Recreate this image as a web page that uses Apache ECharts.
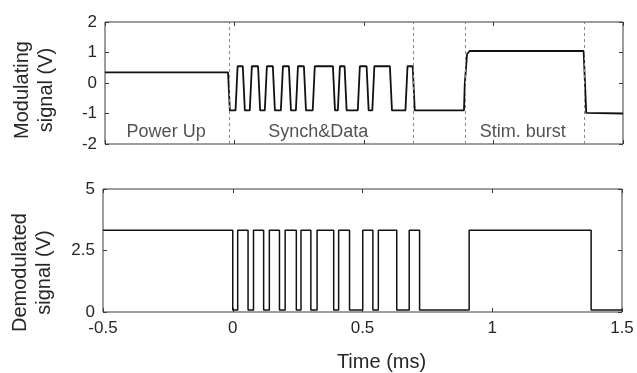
<!DOCTYPE html>
<html lang="en">
<head>
    <meta charset="UTF-8">
    <title>Modulating / demodulated signal</title>
    <script src="https://cdn.jsdelivr.net/npm/echarts@6/dist/echarts.min.js"></script>
</head>
<body style="margin: 0; background: #fff">
<div id="container" style="width:637px;height:373px;"></div>
<script>
// ---- data (time in ms, volts) ----
var xTicks = [-0.5, 0, 0.5, 1, 1.5];
var modTicks = [-2, -1, 0, 1, 2];
var demodTicks = [0, 2.5, 5];

// modulating signal: explicit [t, V] points
var modTime = [-0.5, -0.025, -0.018, 0.004, 0.012, 0.032, 0.040,
    0.059, 0.067, 0.091, 0.099, 0.117, 0.125, 0.148, 0.156,
    0.179, 0.187, 0.210, 0.218, 0.237, 0.245, 0.268, 0.276,
    0.302, 0.310, 0.380, 0.388, 0.399, 0.407, 0.425, 0.433,
    0.476, 0.484, 0.510, 0.518, 0.532, 0.540, 0.600, 0.608,
    0.660, 0.668, 0.688, 0.696, 0.886, 0.889, 0.898, 0.908,
    1.348, 1.358, 1.5];
var modValue = [0.35, 0.35, -0.9, -0.9, 0.55, 0.55, -0.9,
    -0.9, 0.55, 0.55, -0.9, -0.9, 0.55, 0.55, -0.9,
    -0.9, 0.55, 0.55, -0.9, -0.9, 0.55, 0.55, -0.9,
    -0.9, 0.55, 0.55, -0.9, -0.9, 0.55, 0.55, -0.9,
    -0.9, 0.55, 0.55, -0.9, -0.9, 0.55, 0.55, -0.9,
    -0.9, 0.55, 0.55, -0.9, -0.9, -0.05, 0.95, 1.05,
    1.05, -0.98, -1.0];

// demodulated signal: times where the level switches, starting high
var demodEdges = [0.000, 0.019, 0.059, 0.080, 0.119, 0.141, 0.180, 0.202,
    0.245, 0.263, 0.301, 0.325, 0.389, 0.408, 0.450, 0.501, 0.540, 0.561,
    0.632, 0.680, 0.720, 0.911, 1.381];
var demodHigh = 3.32;
var demodLow = 0.08;

// section borders (dashed) and section labels in the top plot
var sectionLines = [-0.022, 0.69, 0.888, 1.35];
var sectionNames = ["Power Up", "Synch&Data", "Stim. burst"];
var sectionNameX = [-0.264, 0.323, 1.113];
var sectionNameY = -1.6;

// ---- build series data ----
var modData = modTime.map(function (t, i) { return [t, modValue[i]]; });

var demodData = [[-0.5, demodHigh]];
var level = demodHigh;
demodEdges.forEach(function (t) {
    level = (level === demodHigh) ? demodLow : demodHigh;
    demodData.push([t, level]);
});
demodData.push([1.5, level]);

var labelData = sectionNames.map(function (s, i) {
    return [sectionNameX[i], sectionNameY, s];
});

var font = "'Liberation Sans', Arial, sans-serif";
var ink = "#262626";
var frame = "#3a3a3a";

function xAxis(grid, pos, showLabel, name) {
    return {
        type: "value", gridIndex: grid, position: pos,
        min: xTicks[0], max: xTicks[xTicks.length - 1], interval: 0.5,
        axisLine: { show: false, onZero: false },
        axisTick: { show: true, inside: true, length: 4, lineStyle: { color: frame } },
        axisLabel: { show: showLabel, color: ink, fontSize: 17, fontFamily: font, margin: 8 },
        splitLine: { show: false },
        name: name || "", nameLocation: "middle", nameGap: 40,
        nameTextStyle: { color: ink, fontSize: 20, fontFamily: font, padding: [0, 0, 0, 38] }
    };
}
function yAxis(grid, pos, ticks, interval, showLabel, name, pad) {
    return {
        type: "value", gridIndex: grid, position: pos,
        min: ticks[0], max: ticks[ticks.length - 1], interval: interval,
        axisLine: { show: false, onZero: false },
        axisTick: { show: true, inside: true, length: 4, lineStyle: { color: frame } },
        axisLabel: { show: showLabel, color: ink, fontSize: 17, fontFamily: font, margin: 8 },
        splitLine: { show: false },
        name: name || "", nameLocation: "middle", nameGap: 47, nameRotate: 90,
        nameTextStyle: { color: ink, fontSize: 20, fontFamily: font, lineHeight: 24, padding: pad || 0 }
    };
}

var myChart = echarts.init(document.getElementById("container"), null, { renderer: "canvas" });

var option = {
    animation: false,
    backgroundColor: "#fff",
    grid: [
        { left: 105, right: 14, top: 22, bottom: 229, show: true, borderColor: frame, borderWidth: 1 },
        { left: 103, right: 15, top: 189, bottom: 60, show: true, borderColor: frame, borderWidth: 1 }
    ],
    xAxis: [
        xAxis(0, "bottom", false),
        xAxis(0, "top", false),
        xAxis(1, "bottom", true, "Time (ms)"),
        xAxis(1, "top", false)
    ],
    yAxis: [
        yAxis(0, "left", modTicks, 1, true, "Modulating\nsignal (V)", [0, 14, 0, 0]),
        yAxis(0, "right", modTicks, 1, false),
        yAxis(1, "left", demodTicks, 2.5, true, "Demodulated\nsignal (V)", [0, 44, 0, 0]),
        yAxis(1, "right", demodTicks, 2.5, false)
    ],
    series: [
        {
            type: "line", xAxisIndex: 0, yAxisIndex: 0, data: modData,
            showSymbol: false, silent: true,
            lineStyle: { color: "#111", width: 1.8 },
            markLine: {
                silent: true, symbol: "none", label: { show: false },
                lineStyle: { color: "#888", type: [3, 3], width: 1 },
                data: sectionLines.map(function (t) { return { xAxis: t }; })
            }
        },
        {
            type: "scatter", xAxisIndex: 0, yAxisIndex: 0, data: labelData,
            symbolSize: 1, silent: true, itemStyle: { color: "rgba(0,0,0,0)" },
            label: {
                show: true, position: "inside", color: ink, fontSize: 18, fontFamily: font,
                formatter: function (p) { return p.data[2]; }
            }
        },
        {
            type: "line", xAxisIndex: 2, yAxisIndex: 2, data: demodData,
            step: "end", showSymbol: false, silent: true,
            lineStyle: { color: "#111", width: 1.5 }
        }
    ]
};
myChart.setOption(option);
</script>
</body>
</html>
